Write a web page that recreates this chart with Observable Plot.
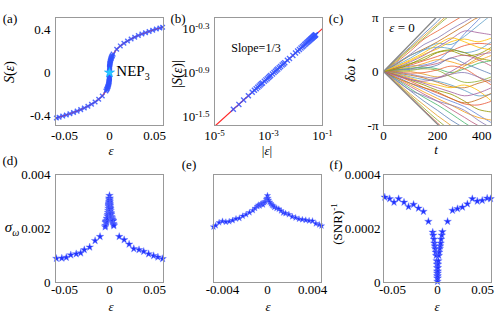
<!DOCTYPE html>
<html><head><meta charset="utf-8">
<script src="https://cdn.jsdelivr.net/npm/d3@7"></script>
<script src="https://cdn.jsdelivr.net/npm/@observablehq/plot@0.6"></script>
<style>
body{margin:0;background:#fff;}
#fig{position:relative;width:498px;height:313px;overflow:hidden;font-family:"Liberation Serif","Times New Roman",serif;color:#000;background:#fff;}
#fig svg{position:absolute;}
#fig svg text{font-family:"Liberation Serif","Times New Roman",serif !important;font-size:13px;fill:#000;}
.lab{position:absolute;font-family:"Liberation Serif","Times New Roman",serif;font-size:13px;white-space:nowrap;transform:translate(-50%,-50%);line-height:1;}
.rot{transform:translate(-50%,-50%) rotate(-90deg);}
</style></head><body><div id="fig"></div>
<script>
// ---------- data ----------
// (a): S(eps)
const epsA = [-0.059,-0.056,-0.052,-0.048,-0.044,-0.040,-0.036,-0.032,-0.028,-0.024,-0.020,-0.016,-0.012,-0.008,-0.004,-0.0032,-0.0028,-0.0024,-0.002,-0.0018,-0.0015,-0.0012,-0.001,-0.0008,-0.0006,-0.0005,-0.0004,-0.0003,-0.0002,-0.00015,-0.0001,-0.00007,-0.00004,
  0.00004,0.00007,0.0001,0.00015,0.0002,0.0003,0.0004,0.0005,0.0006,0.0008,0.001,0.0012,0.0015,0.0018,0.002,0.0024,0.0028,0.0032,0.004,0.008,0.012,0.016,0.020,0.024,0.028,0.032,0.036,0.040,0.044,0.048,0.052,0.056,0.059];
const sA = [-0.420,-0.413,-0.403,-0.392,-0.381,-0.369,-0.357,-0.343,-0.328,-0.311,-0.293,-0.272,-0.247,-0.216,-0.171,-0.159,-0.152,-0.145,-0.136,-0.131,-0.124,-0.115,-0.108,-0.100,-0.091,-0.086,-0.080,-0.072,-0.063,-0.057,-0.050,-0.045,-0.037,
  0.037,0.045,0.050,0.057,0.063,0.072,0.080,0.086,0.091,0.100,0.108,0.115,0.124,0.131,0.136,0.145,0.152,0.159,0.171,0.216,0.247,0.272,0.293,0.311,0.328,0.343,0.357,0.369,0.381,0.392,0.403,0.413,0.420];
const nepEps = [0], nepS = [0];
// (b): |S| vs |eps|
const epsB = [0.00005,0.00008,0.00012,0.00018,0.00025,0.0003,0.00035,0.0004,0.00045,0.0005,0.00055,0.0006,0.0007,0.0008,0.0009,0.001,0.0011,0.0012,0.0014,0.0016,0.0018,0.002,0.0022,0.0025,0.0028,0.0032,0.0036,0.004,0.005,0.006,0.008,0.01,
  0.012,0.014,0.016,0.018,0.02,0.022,0.024,0.026,0.028,0.03,0.032,0.034,0.036,0.038,0.04,0.042,0.044,0.046,0.048,0.05,0.052,0.054,0.056];
const sB = [0.0398,0.0465,0.0533,0.0610,0.068,0.0723,0.0761,0.0796,0.0828,0.0857,0.0885,0.0911,0.0959,0.1002,0.1042,0.108,0.1115,0.1148,0.1209,0.1264,0.1314,0.1361,0.1404,0.1466,0.1522,0.1592,0.1655,0.1714,0.1847,0.1962,0.216,0.2327,
  0.247,0.2603,0.272,0.2831,0.293,0.3026,0.311,0.3199,0.328,0.3356,0.343,0.3499,0.357,0.3631,0.369,0.3754,0.381,0.387,0.392,0.3979,0.403,0.4083,0.413];
const fitEps = [1e-5, 0.1], fitS = [0.0233, 0.501];

// (c): phase trajectories (units of pi)
const tC = [0,50,100,150,200,250,300,350,400];
const phaseC = [
 [0,0.23,0.46,0.70,0.93,1.2,1.4,1.6,1.8],
 [0,0.22,0.44,0.66,0.88,1.1,1.3,1.5,1.7],
 [0,0.2,0.42,0.62,0.85,1.05,1.2,1.4,1.5],
 [0,0.18,0.38,0.6,0.75,0.9,1.05,1.2,1.3],
 [0,0.15,0.32,0.5,0.62,0.78,0.92,1.05,1.1],
 [0,0.14,0.3,0.42,0.55,0.7,0.85,1.0,1.05],
 [0,0.12,0.25,0.4,0.52,0.5,0.65,0.85,1.05],
 [0,0.1,0.2,0.32,0.42,0.55,0.6,0.55,0.62],
 [0,0.08,0.18,0.3,0.45,0.6,0.75,0.72,0.68],
 [0,0.07,0.15,0.22,0.35,0.38,0.3,0.32,0.45],
 [0,0.06,0.12,0.2,0.28,0.38,0.48,0.52,0.5],
 [0,0.05,0.1,0.12,0.2,0.42,0.7,0.95,1.2],
 [0,0.04,0.08,0.15,0.22,0.18,0.12,0.2,0.3],
 [0,0.03,0.05,0.1,0.15,0.25,0.3,0.22,0.1],
 [0,0.03,0.06,0.08,0.05,-0.02,0.05,0.15,0.2],
 [0,0.02,0.04,0.06,0.12,0.25,0.15,0.05,-0.05],
 [0,0.01,0.0,-0.05,-0.1,-0.05,0.1,0.25,0.4],
 [0,0.0,0.02,0.05,0.02,-0.1,-0.2,-0.18,-0.1],
 [0,-0.01,-0.03,-0.02,0.03,0.1,0.05,-0.1,-0.25],
 [0,-0.02,-0.05,-0.1,-0.12,-0.05,-0.02,-0.1,-0.2],
 [0,-0.03,-0.07,-0.12,-0.2,-0.28,-0.3,-0.22,-0.15],
 [0,-0.04,-0.1,-0.15,-0.18,-0.25,-0.35,-0.45,-0.42],
 [0,-0.05,-0.12,-0.2,-0.25,-0.3,-0.25,-0.35,-0.55],
 [0,-0.06,-0.14,-0.22,-0.3,-0.38,-0.45,-0.4,-0.3],
 [0,-0.07,-0.16,-0.25,-0.35,-0.42,-0.55,-0.7,-0.75],
 [0,-0.08,-0.18,-0.3,-0.4,-0.5,-0.6,-0.62,-0.55],
 [0,-0.1,-0.22,-0.33,-0.45,-0.55,-0.65,-0.8,-0.95],
 [0,-0.12,-0.25,-0.38,-0.5,-0.62,-0.75,-0.85,-0.9],
 [0,-0.14,-0.28,-0.42,-0.55,-0.7,-0.85,-1.0,-1.1],
 [0,-0.15,-0.32,-0.48,-0.62,-0.78,-0.95,-1.1,-1.2],
 [0,-0.17,-0.36,-0.55,-0.72,-0.9,-1.05,-1.2,-1.3],
 [0,-0.2,-0.42,-0.62,-0.82,-1.0,-1.2,-1.4,-1.5],
 [0,-0.22,-0.45,-0.68,-0.9,-1.1,-1.3,-1.5,-1.7],
 [0,-0.23,-0.47,-0.72,-0.95,-1.2,-1.4,-1.6,-1.8],
 [0,-0.18,-0.35,-0.45,-0.55,-0.62,-0.72,-0.9,-1.05],
 [0,-0.12,-0.22,-0.3,-0.38,-0.5,-0.58,-0.52,-0.4],
 [0,0.16,0.3,0.4,0.45,0.42,0.35,0.4,0.55],
 [0,0.1,0.22,0.35,0.5,0.62,0.55,0.45,0.4],
 [0,-0.08,-0.15,-0.18,-0.12,0.0,0.15,0.3,0.35],
 [0,0.05,0.14,0.26,0.36,0.4,0.35,0.25,0.2]
];
const envUpT = [0,195], envUpP = [0,1];
const envDnT = [0,205], envDnP = [0,-1];

// (d): sigma_omega, outer points
const epsD = [-0.059,-0.053,-0.048,-0.043,-0.037,-0.032,-0.028,-0.022,-0.016,-0.0105,0.0108,0.0163,0.0218,0.027,0.0328,0.038,0.0435,0.049,0.0538,0.059];
const sigD = [0.00089,0.0009,0.00093,0.00102,0.00106,0.00109,0.00121,0.00131,0.00155,0.0017,0.0017,0.00158,0.00142,0.00125,0.00121,0.00115,0.00106,0.00099,0.00094,0.00088];
// (e): sigma_omega near 0 (also in (d))
const epsE = [-0.0048,-0.0046,-0.0043,-0.0040,-0.0037,-0.0034,-0.0031,-0.0028,-0.0025,-0.0022,-0.0019,-0.0016,-0.0013,-0.0011,-0.0009,-0.0008,-0.0007,-0.0006,-0.0005,-0.0004,-0.0003,-0.0002,-0.0001,-0.00005,0,0.00005,0.0001,0.0002,0.0003,0.0004,0.0005,0.0006,0.0008,0.001,0.0012,0.0014,0.0016,0.0019,0.0022,0.0025,0.0028,0.0031,0.0034,0.0037,0.004,0.0043,0.0046,0.0048];
const sigE = [0.00206,0.00211,0.00222,0.00227,0.00224,0.00226,0.0023,0.00236,0.00238,0.00246,0.00252,0.00259,0.00267,0.00275,0.00282,0.00287,0.00284,0.0029,0.00292,0.00288,0.00296,0.003,0.00308,0.00312,0.00322,0.00312,0.00305,0.00298,0.00292,0.00287,0.00284,0.00279,0.00275,0.00272,0.00266,0.00258,0.00256,0.00252,0.00244,0.0024,0.00235,0.00233,0.00231,0.00229,0.00228,0.00218,0.00214,0.0021];
// (f): (SNR)^-1
const epsF = [-0.0586,-0.0531,-0.0483,-0.0432,-0.0372,-0.0322,-0.0266,-0.0211,-0.0156,-0.0101,0.0112,0.0167,0.0222,0.0277,0.0332,0.0387,0.0442,0.0497,0.0552,0.059,
  -0.0053,-0.0047,-0.004,-0.0035,-0.003,-0.0025,-0.002,-0.0015,-0.001,-0.0007,-0.0005,-0.0003,-0.0002,-0.0001,-0.00005,0,0.00005,0.0001,0.0002,0.0003,0.0005,0.0007,0.001,0.0015,0.002,0.0025,0.003,0.0035,0.004,0.0047,0.0055];
const snrF = [0.000316,0.00031,0.000297,0.00031,0.000297,0.000281,0.000289,0.000275,0.000263,0.000226,0.000226,0.000267,0.000273,0.000279,0.000291,0.00031,0.000301,0.000304,0.000312,0.00031,
  0.000186,0.000175,0.00016,0.000145,0.000135,0.000125,0.000112,0.0001,0.00008,0.000068,0.000055,0.000042,0.000034,0.000024,0.000016,0.000004,0.000016,0.000024,0.000034,0.000042,0.000055,0.000068,0.00008,0.0001,0.000112,0.000125,0.000135,0.000145,0.00016,0.000175,0.000188];

// ticks
const aTicksX = [-0.05,0,0.05], aLabX = ["-0.05","0","0.05"];
const aTicksY = [-0.4,0,0.4], aLabY = ["-0.4","0","0.4"];
const bExpX = [-5,-3,-1], bExpY = [-1.5,-0.9,-0.3];
const cTicksX = [0,200,400], cLabX = ["0","200","400"];
const cTicksY = [-1,0,1], cLabY = ["-π","0","π"];
const dTicksY = [0,0.002,0.004], dLabY = ["0","0.002","0.004"];
const eTicksX = [-0.004,0,0.004], eLabX = ["-0.004","0","0.004"];
const fTicksY = [0,0.0002,0.0004], fLabY = ["0","0.0002","0.0004"];

// ---------- styles ----------
const palette = ["#5e81b5","#e19c24","#8fb032","#eb6235","#8778b3","#c56e1a","#5d9ec7","#ffbf00","#a5609d","#929600","#e95536","#6685d9","#f89f13","#bc5b80","#47b66d"];
const SERIF = '"Liberation Serif", "Times New Roman", serif';
const fig = document.getElementById("fig");
const FW = 108, FH = 108;
const fmt = (ticks, labs) => { const m = new Map(ticks.map((t,i)=>[t,labs[i]])); return d => m.get(d) ?? ""; };
const starStyle = {symbol:"star", fill:"#2233ff", stroke:"#7080ff", strokeWidth:0.4};
const crossStyle = {symbol:"times", stroke:"#3352ff", strokeWidth:1.4, strokeOpacity:0.85};

function panel(x0, y0, opts, marks) {
  const ml=60, mr=20, mt=10, mb=30;
  const svg = Plot.plot({
    width: FW+ml+mr, height: FH+mt+mb, marginLeft: ml, marginRight: mr, marginTop: mt, marginBottom: mb,
    style: {background:"transparent", fontFamily:SERIF, fontSize:"13px", overflow:"visible", color:"#000"},
    ...opts, marks
  });
  svg.setAttribute("font-family", SERIF);
  svg.querySelectorAll("g").forEach(g => { if (g.hasAttribute("font-family")) g.setAttribute("font-family", SERIF); });
  svg.querySelectorAll("text").forEach(t => { t.style.fontFamily = SERIF; t.style.fontSize = "13px"; t.setAttribute("font-family", SERIF); });
  svg.style.left = (x0-ml)+"px"; svg.style.top = (y0-mt)+"px";
  fig.appendChild(svg);
  return svg;
}
const frame = Plot.frame({stroke:"#999", strokeWidth:1});
const ax = (o) => ({tickSize:0, tickPadding:5, label:null, ...o});
const axb = (o) => ({tickSize:0, tickPadding:2, label:null, ...o});

// (a)
const rowsA = epsA.map((e,i)=>({e, s:sA[i]}));
const lineA = [...rowsA.filter(d=>d.e<0), {e:nepEps[0], s:nepS[0]}, ...rowsA.filter(d=>d.e>0)];
panel(55, 17, {
  x: ax({domain:[-0.06,0.06], ticks:aTicksX, tickFormat:fmt(aTicksX,aLabX)}),
  y: ax({domain:[-0.49,0.51], ticks:aTicksY, tickFormat:fmt(aTicksY,aLabY)})
}, [
  Plot.line(lineA, {x:"e", y:"s", stroke:"#ff2a2a", strokeWidth:1.2}),
  Plot.dot(rowsA, {x:"e", y:"s", r:2.2, ...crossStyle}),
  Plot.dot(nepEps.map((e,i)=>({e, s:nepS[i]})), {x:"e", y:"s", symbol:"star", r:3.2, fill:"#28c8ff", stroke:"#00a0ff", strokeWidth:0.5}),
  frame
]);

// (b)
const rowsB = epsB.map((e,i)=>({e, s:sB[i]}));
const bx = bExpX.map(e=>10**e), by = bExpY.map(e=>10**e);
const svgB = panel(214, 17, {
  x: ax({type:"log", domain:[1e-5,1e-1], ticks:bx, tickFormat:fmt(bx, bExpX.map(e=>"10^"+e))}),
  y: ax({type:"log", domain:[10**-1.62,10**-0.15], ticks:by, tickFormat:fmt(by, bExpY.map(e=>"10^"+e))})
}, [
  Plot.line(fitEps.map((e,i)=>({e, s:fitS[i]})), {x:"e", y:"s", stroke:"#ff2a2a", strokeWidth:1.2, clip:true}),
  Plot.dot(rowsB, {x:"e", y:"s", r:2.4, ...crossStyle}),
  frame
]);
const NS = "http://www.w3.org/2000/svg";
svgB.querySelectorAll("text").forEach(t => {
  const s = t.textContent;
  if (s.includes("^")) {
    const [b, e] = s.split("^");
    t.textContent = "";
    const t1 = document.createElementNS(NS, "tspan"); t1.textContent = b;
    const t2 = document.createElementNS(NS, "tspan"); t2.textContent = e;
    t2.setAttribute("dy", "-0.45em"); t2.setAttribute("style", "font-size:9px");
    t.appendChild(t1); t.appendChild(t2);
  }
});

// (c)
const rowsC = phaseC.flatMap((arr,k)=>arr.map((p,j)=>({t:tC[j], p, k})));
const svgC = panel(383, 17, {
  x: ax({domain:[0,400], ticks:cTicksX, tickFormat:fmt(cTicksX,cLabX)}),
  y: ax({domain:[-1,1], ticks:cTicksY, tickFormat:fmt(cTicksY,cLabY)}),
  color: {type:"identity"}
}, [
  Plot.line(rowsC, {x:"t", y:"p", z:"k", stroke:d=>palette[d.k%palette.length], strokeWidth:0.9, strokeOpacity:0.9, curve:"catmull-rom", clip:true}),
  Plot.line(envUpT.map((t,i)=>({t, p:envUpP[i]})), {x:"t", y:"p", stroke:"#888", strokeWidth:1.3, clip:true}),
  Plot.line(envDnT.map((t,i)=>({t, p:envDnP[i]})), {x:"t", y:"p", stroke:"#888", strokeWidth:1.3, clip:true}),
  frame
]);
svgC.querySelectorAll("text").forEach(t => { if (t.textContent === "400") t.setAttribute("text-anchor", "end"); });

// (d)
const rowsD = [...epsD.map((e,i)=>({e, v:sigD[i]})), ...epsE.map((e,i)=>({e, v:sigE[i]}))];
panel(55, 174, {
  x: axb({domain:[-0.06,0.06], ticks:aTicksX, tickFormat:fmt(aTicksX,aLabX)}),
  y: ax({domain:[0,0.004], ticks:dTicksY, tickFormat:fmt(dTicksY,dLabY)})
}, [
  Plot.dot(rowsD, {x:"e", y:"v", r:2.4, ...starStyle}),
  frame
]);

// (e)
panel(213, 174, {
  x: axb({domain:[-0.0048,0.0048], ticks:eTicksX, tickFormat:fmt(eTicksX,eLabX)}),
  y: {domain:[0,0.004], axis:null}
}, [
  Plot.dot(epsE.map((e,i)=>({e, v:sigE[i]})), {x:"e", y:"v", r:2.0, ...starStyle}),
  frame
]);

// (f)
panel(383, 174, {
  x: axb({domain:[-0.06,0.06], ticks:aTicksX, tickFormat:fmt(aTicksX,aLabX)}),
  y: ax({domain:[0,0.0004], ticks:fTicksY, tickFormat:fmt(fTicksY,fLabY), tickPadding:3})
}, [
  Plot.dot(epsF.map((e,i)=>({e, v:snrF[i]})), {x:"e", y:"v", r:2.4, ...starStyle}),
  frame
]);

// ---------- text labels ----------
const labels = [
  ["(a)",10,18,""],["(b)",178,18,""],["(c)",336,18,""],["(d)",10,160,""],["(e)",189,164,""],["(f)",336,164,""],
  ["<i>S</i>(<i>ε</i>)",10,72,"rot"],["<i>ε</i>",111,150,""],
  ["|<i>S</i>(<i>ε</i>)|",178,74,"rot"],["|<i>ε</i>|",267,150,""],
  ["<i>δω t</i>",351,70,"rot"],["<i>t</i>",436,149,""],
  ["<i>ε</i> = 0",402,27,""],
  ["NEP<sub style='font-size:10px'>3</sub>",133,73,"big"],
  ["Slope=1/3",256,48,"small"],
  ["<i>σ</i><sub style='font-size:10px'><i>ω</i></sub>",12,229,"big"],
  ["<i>ε</i>",111,306,""],["<i>ε</i>",268,306,""],["<i>ε</i>",437,306,""],
  ["(SNR)<sup style='font-size:9px'>-1</sup>",337,224,"rotsm"]
];
for (const [html,x,y,cls] of labels) {
  const d = document.createElement("div");
  d.className = "lab" + (cls.startsWith("rot") ? " rot" : "");
  if (cls==="big") d.style.fontSize = "15px";
  if (cls==="small") d.style.fontSize = "12px";
  if (cls==="rot") d.style.fontSize = "14px";
  if (cls==="rotsm") d.style.fontSize = "13px";
  d.innerHTML = html;
  d.style.left = x+"px"; d.style.top = y+"px";
  fig.appendChild(d);
}
</script></body></html>
